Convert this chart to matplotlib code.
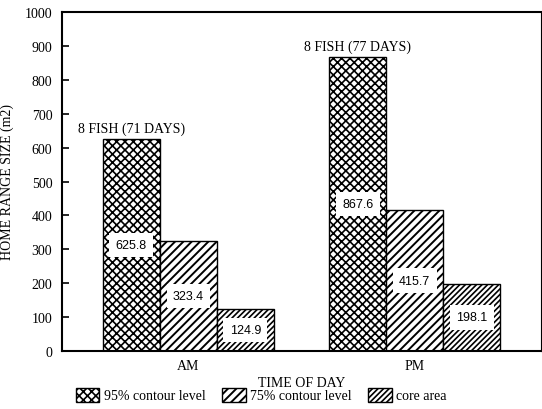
import numpy as np
import matplotlib.pyplot as plt
from matplotlib.patches import Patch

periods = ['AM', 'PM']
series = ['95% contour level', '75% contour level', 'core area']
contour95 = [625.8, 867.6]
contour75 = [323.4, 415.7]
core = [124.9, 198.1]
fish_notes = ['8 FISH (71 DAYS)', '8 FISH (77 DAYS)']
hatches = ['xxxx', '////', '//////']
hatch_lw = [1.2, 1.4, 1.2]

serif = 'Liberation Serif'
sans = 'Liberation Sans'

fig = plt.figure(figsize=(5.42, 4.10), dpi=100)
ax = fig.add_axes([62/542, 58/410, 479/542, 339/410])

x = np.arange(len(periods))
w = 0.252
values = [contour95, contour75, core]
for k, (vals, h) in enumerate(zip(values, hatches)):
    pos = x + (k - 1) * w
    bars = ax.bar(pos, vals, w, color='white', edgecolor='black', hatch=h, linewidth=1.0)
    for b in bars:
        b.set_hatch_linewidth(hatch_lw[k])
    for xi, v in zip(pos, vals):
        ax.text(xi, v / 2, '%.1f' % v, ha='center', va='center', fontsize=9,
                family=sans,
                bbox=dict(boxstyle='square,pad=0.5', fc='white', ec='none'))

for xi, v, note in zip(x - w, contour95, fish_notes):
    ax.text(xi, v + 12, note, ha='center', va='bottom', fontsize=10, family=serif)

ax.set_xlim(-0.558, 1.558)
ax.set_ylim(0, 1000)
ax.set_yticks(np.arange(0, 1001, 100))
ax.set_yticklabels([str(t) for t in range(0, 1001, 100)], family=serif, fontsize=10)
ax.tick_params(axis='y', direction='in', length=5, width=1.2, pad=7)
ax.set_xticks(x)
ax.set_xticklabels(periods, family=serif, fontsize=10)
ax.tick_params(axis='x', length=0, pad=6)
for s in ['left', 'bottom', 'top']:
    ax.spines[s].set_linewidth(1.5)
ax.spines['right'].set_linewidth(0.8)

ax.set_ylabel('HOME RANGE SIZE (m2)', family=serif, fontsize=10, labelpad=8)
ax.set_xlabel('TIME OF DAY', family=serif, fontsize=10, labelpad=3)

handles = []
for h, s, lw in zip(hatches, series, hatch_lw):
    p = Patch(facecolor='white', edgecolor='black', hatch=h, label=s)
    p.set_hatch_linewidth(lw)
    handles.append(p)
leg = fig.legend(handles=handles, loc='center', bbox_to_anchor=(261/542, 1 - 396/410),
                 ncol=3, frameon=False, prop={'family': serif, 'size': 10},
                 handlelength=1.7, handleheight=1.2, handletextpad=0.3, columnspacing=1.2,
                 borderpad=0)
for p, lw in zip(leg.get_patches(), hatch_lw):
    p.set_hatch_linewidth(lw)

fig.savefig('out.png', dpi=100)
